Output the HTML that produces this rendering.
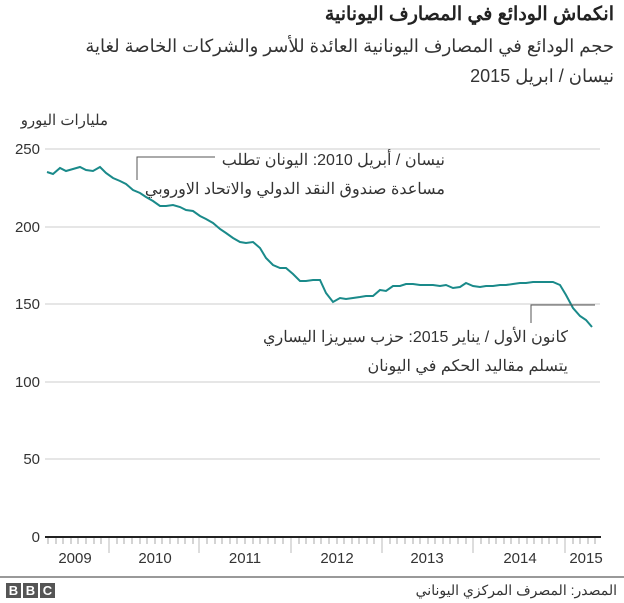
<!DOCTYPE html>
<html><head><meta charset="utf-8"><style>
body{margin:0;background:#fff;width:624px;height:603px;overflow:hidden;font-family:"Liberation Sans","Noto Sans CJK SC",sans-serif;color:#222;position:relative}
.t{position:absolute;direction:rtl;text-align:right;white-space:nowrap;line-height:1}
</style></head><body>
<svg width="624" height="603" xmlns="http://www.w3.org/2000/svg" font-family="Liberation Sans, sans-serif" style="position:absolute;left:0;top:0">
<g stroke="#ccc" stroke-width="1">
<line x1="45" y1="149" x2="600" y2="149"/><line x1="45" y1="227" x2="600" y2="227"/><line x1="45" y1="304" x2="600" y2="304"/><line x1="45" y1="382" x2="600" y2="382"/><line x1="45" y1="459" x2="600" y2="459"/>
</g>
<g font-size="15" fill="#333" text-anchor="end">
<text x="40" y="154">250</text><text x="40" y="232">200</text><text x="40" y="309">150</text><text x="40" y="387">100</text><text x="40" y="464">50</text><text x="40" y="542">0</text>
</g>
<line x1="45" y1="537" x2="601" y2="537" stroke="#222" stroke-width="2"/>
<g stroke="#bbb"><line x1="109" y1="538" x2="109" y2="553"/><line x1="199" y1="538" x2="199" y2="553"/><line x1="291" y1="538" x2="291" y2="553"/><line x1="382" y1="538" x2="382" y2="553"/><line x1="473" y1="538" x2="473" y2="553"/><line x1="565" y1="538" x2="565" y2="553"/></g>
<g stroke="#aaa" stroke-width="1">
<line x1="48" y1="538" x2="48" y2="544"/><line x1="56" y1="538" x2="56" y2="544"/><line x1="63" y1="538" x2="63" y2="544"/><line x1="71" y1="538" x2="71" y2="544"/><line x1="78" y1="538" x2="78" y2="544"/><line x1="86" y1="538" x2="86" y2="544"/><line x1="94" y1="538" x2="94" y2="544"/><line x1="101" y1="538" x2="101" y2="544"/>
<line x1="117" y1="538" x2="117" y2="544"/><line x1="124" y1="538" x2="124" y2="544"/><line x1="132" y1="538" x2="132" y2="544"/><line x1="140" y1="538" x2="140" y2="544"/><line x1="147" y1="538" x2="147" y2="544"/><line x1="155" y1="538" x2="155" y2="544"/><line x1="162" y1="538" x2="162" y2="544"/><line x1="170" y1="538" x2="170" y2="544"/><line x1="178" y1="538" x2="178" y2="544"/><line x1="185" y1="538" x2="185" y2="544"/><line x1="193" y1="538" x2="193" y2="544"/>
<line x1="207" y1="538" x2="207" y2="544"/><line x1="215" y1="538" x2="215" y2="544"/><line x1="222" y1="538" x2="222" y2="544"/><line x1="230" y1="538" x2="230" y2="544"/><line x1="237" y1="538" x2="237" y2="544"/><line x1="245" y1="538" x2="245" y2="544"/><line x1="253" y1="538" x2="253" y2="544"/><line x1="260" y1="538" x2="260" y2="544"/><line x1="268" y1="538" x2="268" y2="544"/><line x1="275" y1="538" x2="275" y2="544"/><line x1="283" y1="538" x2="283" y2="544"/>
<line x1="299" y1="538" x2="299" y2="544"/><line x1="306" y1="538" x2="306" y2="544"/><line x1="314" y1="538" x2="314" y2="544"/><line x1="321" y1="538" x2="321" y2="544"/><line x1="329" y1="538" x2="329" y2="544"/><line x1="337" y1="538" x2="337" y2="544"/><line x1="344" y1="538" x2="344" y2="544"/><line x1="352" y1="538" x2="352" y2="544"/><line x1="359" y1="538" x2="359" y2="544"/><line x1="367" y1="538" x2="367" y2="544"/><line x1="374" y1="538" x2="374" y2="544"/>
<line x1="390" y1="538" x2="390" y2="544"/><line x1="397" y1="538" x2="397" y2="544"/><line x1="405" y1="538" x2="405" y2="544"/><line x1="413" y1="538" x2="413" y2="544"/><line x1="420" y1="538" x2="420" y2="544"/><line x1="428" y1="538" x2="428" y2="544"/><line x1="435" y1="538" x2="435" y2="544"/><line x1="443" y1="538" x2="443" y2="544"/><line x1="450" y1="538" x2="450" y2="544"/><line x1="458" y1="538" x2="458" y2="544"/><line x1="466" y1="538" x2="466" y2="544"/>
<line x1="481" y1="538" x2="481" y2="544"/><line x1="489" y1="538" x2="489" y2="544"/><line x1="496" y1="538" x2="496" y2="544"/><line x1="504" y1="538" x2="504" y2="544"/><line x1="511" y1="538" x2="511" y2="544"/><line x1="519" y1="538" x2="519" y2="544"/><line x1="527" y1="538" x2="527" y2="544"/><line x1="534" y1="538" x2="534" y2="544"/><line x1="542" y1="538" x2="542" y2="544"/><line x1="549" y1="538" x2="549" y2="544"/><line x1="557" y1="538" x2="557" y2="544"/>
<line x1="573" y1="538" x2="573" y2="544"/><line x1="580" y1="538" x2="580" y2="544"/><line x1="588" y1="538" x2="588" y2="544"/><line x1="595" y1="538" x2="595" y2="544"/>
</g>
<g font-size="15" fill="#333" text-anchor="middle">
<text x="75" y="563">2009</text><text x="155" y="563">2010</text><text x="245" y="563">2011</text><text x="337" y="563">2012</text><text x="427" y="563">2013</text><text x="520" y="563">2014</text><text x="586" y="563">2015</text>
</g>
<polyline fill="none" stroke="#1a8a8a" stroke-width="2" points="47,172 53,174 60,168 66,171 73,169 80,167 86,170 93,171 100,167 106,173 113,178 120,181 126,184 133,190 140,193 146,197 153,201 160,206 166,206 173,205 180,207 186,210 193,211 200,216 206,219 213,223 220,229 226,233 233,238 240,242 246,243 253,242 260,248 266,258 273,265 280,268 286,268 293,274 300,281 306,281 313,280 320,280 326,293 333,302 340,298 346,299 353,298 360,297 366,296 373,296 380,290 386,291 393,286 400,286 406,284 413,284 420,285 426,285 433,285 440,286 446,285 453,288 460,287 466,283 473,286 480,287 486,286 493,286 500,285 506,285 513,284 520,283 526,283 533,282 540,282 546,282 553,282 560,285 566,295 573,308 580,316 586,320 592,327"/>
<polyline fill="none" stroke="#555" stroke-width="1" points="137,180 137,157 215,157"/>
<polyline fill="none" stroke="#555" stroke-width="1" points="531,323 531,305 595,305"/>
<line x1="0" y1="577" x2="624" y2="577" stroke="#999" stroke-width="2"/>
<g fill="#555"><rect x="6" y="583" width="15" height="15"/><rect x="23" y="583" width="15" height="15"/><rect x="40" y="583" width="15" height="15"/></g>
<g fill="#fff" font-size="13" font-weight="bold" text-anchor="middle"><text x="13.5" y="595">B</text><text x="30.5" y="595">B</text><text x="47.5" y="595">C</text></g>
</svg>
<div class="t" style="right:10px;top:5px;font-size:19px;font-weight:bold">انكماش الودائع في المصارف اليونانية</div>
<div class="t" style="right:10px;top:37px;font-size:18px;color:#333">حجم الودائع في المصارف اليونانية العائدة للأسر والشركات الخاصة لغاية</div>
<div class="t" style="right:10px;top:67px;font-size:18px;color:#333">نيسان / ابريل 2015</div>
<div class="t" style="right:516px;top:113px;font-size:15px;color:#333">مليارات اليورو</div>
<div class="t" style="right:179px;top:153px;font-size:16px;color:#333">نيسان / أبريل 2010: اليونان تطلب</div>
<div class="t" style="right:179px;top:182px;font-size:16px;color:#333">مساعدة صندوق النقد الدولي والاتحاد الاوروبي</div>
<div class="t" style="right:56px;top:330px;font-size:16px;color:#333">كانون الأول / يناير 2015: حزب سيريزا اليساري</div>
<div class="t" style="right:56px;top:359px;font-size:16px;color:#333">يتسلم مقاليد الحكم في اليونان</div>
<div class="t" style="right:7px;top:583px;font-size:14px;color:#333">المصدر: المصرف المركزي اليوناني</div>
</body></html>
